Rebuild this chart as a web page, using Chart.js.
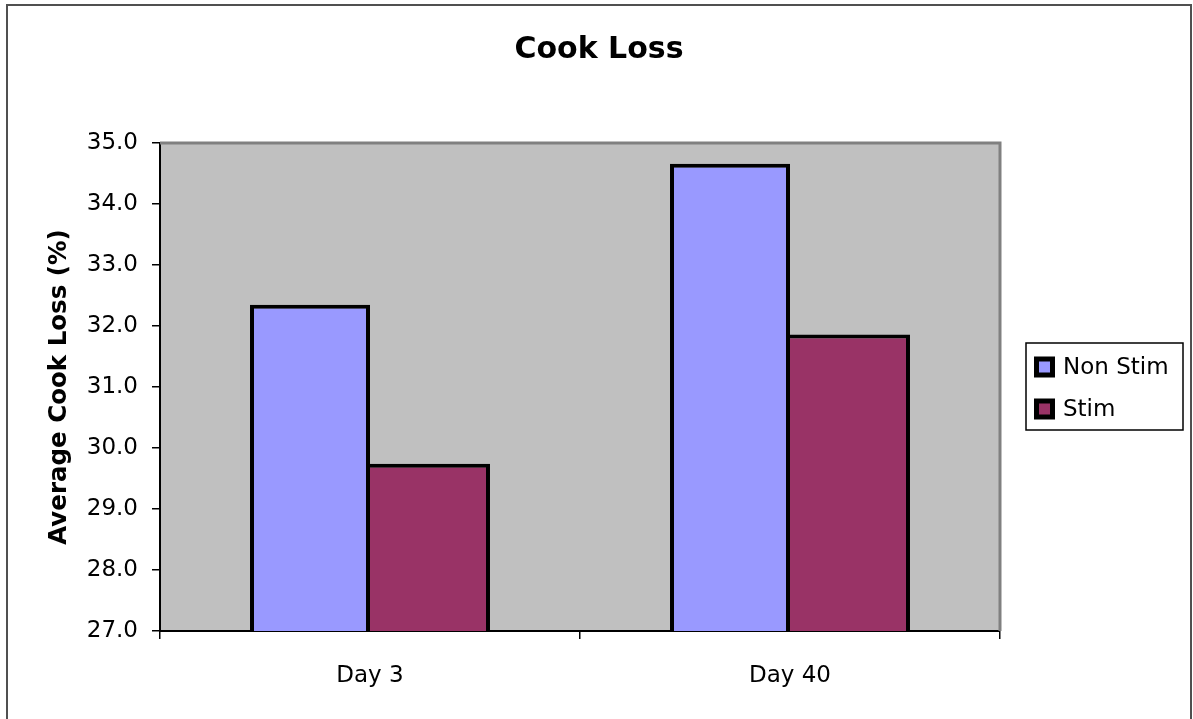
<!DOCTYPE html>
<html>
<head>
<meta charset="utf-8">
<title>Cook Loss</title>
<script src="https://cdn.jsdelivr.net/npm/chart.js@4"></script>
<style>
  html, body { margin: 0; padding: 0; background: #ffffff; }
  canvas { display: block; }
</style>
</head>
<body>
<canvas id="chart" width="1193" height="719"></canvas>
<script>
// Chart data
const categories = ['Day 3', 'Day 40'];
const seriesNames = ['Non Stim', 'Stim'];
const nonStimValues = [32.35, 34.66];
const stimValues = [29.74, 31.86];
const yTickValues = [27, 28, 29, 30, 31, 32, 33, 34, 35];

const FONT = "'DejaVu Sans', 'Liberation Sans', sans-serif";
Chart.defaults.font.family = FONT;
Chart.defaults.color = '#000000';

// Grey plot background, drawn before the axes and bars
const plotBackground = {
  id: 'plotBackground',
  beforeDraw(chart) {
    const { ctx, chartArea: a } = chart;
    ctx.save();
    ctx.fillStyle = '#c0c0c0';
    ctx.fillRect(a.left, a.top, a.right - a.left, a.bottom - a.top);
    ctx.restore();
  },
  afterDraw(chart) {
    const { ctx, chartArea: a } = chart;
    ctx.save();
    // grey frame on the top and right sides of the plot
    ctx.strokeStyle = '#808080';
    ctx.lineWidth = 3;
    ctx.beginPath();
    ctx.moveTo(a.left, a.top);
    ctx.lineTo(a.right, a.top);
    ctx.lineTo(a.right, a.bottom);
    ctx.stroke();
    // outer border of the whole chart
    ctx.strokeStyle = '#505050';
    ctx.lineWidth = 2;
    ctx.strokeRect(7, 5, 1184, 730);
    ctx.restore();
  }
};

// Boxed legend to the right of the plot
const boxedLegend = {
  id: 'boxedLegend',
  afterDraw(chart) {
    const { ctx } = chart;
    const x0 = 1026, y0 = 343, w = 157, h = 87;
    ctx.save();
    ctx.fillStyle = '#ffffff';
    ctx.fillRect(x0, y0, w, h);
    ctx.strokeStyle = '#000000';
    ctx.lineWidth = 1.5;
    ctx.strokeRect(x0, y0, w, h);
    const rowY = [y0 + 24, y0 + 66];
    chart.data.datasets.forEach((ds, i) => {
      const cy = rowY[i];
      const s = 21;
      ctx.fillStyle = '#000000';
      ctx.fillRect(x0 + 8, cy - s / 2, s, s);
      ctx.fillStyle = ds.backgroundColor;
      ctx.fillRect(x0 + 13, cy - s / 2 + 5, s - 10, s - 10);
      ctx.fillStyle = '#000000';
      ctx.font = '23px ' + FONT;
      ctx.textBaseline = 'middle';
      ctx.textAlign = 'left';
      ctx.fillText(ds.label, x0 + 37, cy + 1);
    });
    ctx.restore();
  }
};

new Chart(document.getElementById('chart'), {
  type: 'bar',
  data: {
    labels: categories,
    datasets: [
      {
        label: seriesNames[0],
        data: nonStimValues,
        backgroundColor: '#9999ff',
        borderColor: '#000000',
        borderWidth: 4,
        borderSkipped: false
      },
      {
        label: seriesNames[1],
        data: stimValues,
        backgroundColor: '#993366',
        borderColor: '#000000',
        // the left edge is shared with the neighbouring bar's outline
        borderWidth: { top: 4, right: 4, bottom: 4, left: 0 },
        borderSkipped: false
      }
    ]
  },
  options: {
    responsive: false,
    animation: false,
    events: [],
    layout: { padding: { left: 7, right: 2, top: 5, bottom: 0 } },
    datasets: {
      bar: { categoryPercentage: 0.5714, barPercentage: 1.0 }
    },
    plugins: {
      legend: { display: false },
      tooltip: { enabled: false },
      title: {
        display: true,
        text: 'Cook Loss',
        color: '#000000',
        font: { size: 30, weight: 'bold', family: FONT },
        padding: { top: 27, bottom: 75 }
      }
    },
    scales: {
      x: {
        grid: {
          offset: true,
          drawOnChartArea: false,
          drawTicks: true,
          tickLength: 8,
          color: '#000000',
          lineWidth: 1.5
        },
        border: { display: true, color: '#000000', width: 2 },
        ticks: {
          color: '#000000',
          font: { size: 23, family: FONT },
          padding: 23
        },
        afterFit(scale) { scale.height = 88; }
      },
      y: {
        min: 27,
        max: 35,
        afterBuildTicks(scale) {
          scale.ticks = yTickValues.map(v => ({ value: v }));
        },
        grid: {
          drawOnChartArea: false,
          drawTicks: true,
          tickLength: 8,
          color: '#000000',
          lineWidth: 1.5
        },
        border: { display: true, color: '#000000', width: 2 },
        ticks: {
          color: '#000000',
          font: { size: 23, family: FONT },
          padding: 14,
          callback: v => Number(v).toFixed(1)
        },
        title: {
          display: true,
          text: 'Average Cook Loss (%)',
          color: '#000000',
          font: { size: 24.5, weight: 'bold', family: FONT },
          padding: { top: 38, bottom: 0 }
        },
        afterFit(scale) { scale.width = 153; }
      },
      legendSpace: {
        type: 'linear',
        position: 'right',
        display: true,
        grid: { display: false, drawTicks: false },
        border: { display: false },
        ticks: { display: false },
        afterFit(scale) { scale.width = 191; }
      }
    }
  },
  plugins: [plotBackground, boxedLegend]
});
</script>
</body>
</html>
